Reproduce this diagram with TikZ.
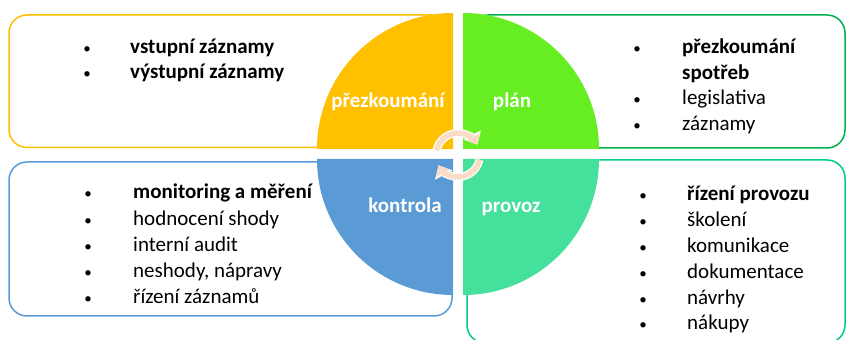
\documentclass[tikz,border=0pt]{standalone}
\usepackage{fontspec}
\setmainfont{Carlito}
\usetikzlibrary{arrows.meta}
\definecolor{qyellow}{HTML}{FFC000}
\definecolor{qgreen}{HTML}{66EE22}
\definecolor{qblue}{HTML}{5B9BD5}
\definecolor{qteal}{HTML}{44E09C}
\definecolor{lgreen}{HTML}{00B050}
\definecolor{lteal}{HTML}{00CC88}
\definecolor{peach}{HTML}{FBDDC6}

\begin{document}
\begin{tikzpicture}[x=1pt,y=1pt,>=Stealth,font=\fontsize{21}{25}\selectfont]
\tikzstyle{frame}=[draw,line width=1.5pt,rounded corners=18pt,inner sep=0pt]
\tikzstyle{lbl}=[anchor=base,text=white,font=\fontsize{21}{25}\selectfont\bfseries]
\tikzstyle{bul}=[anchor=base,inner sep=0pt,font=\fontsize{15}{25}\selectfont]
\tikzstyle{itm}=[anchor=base west,inner sep=0pt]
\tikzstyle{cyc}=[line width=5.5pt,draw=peach,-{Triangle[length=9pt,width=15pt]},
  preaction={draw=white,line width=8pt,-{Triangle[length=11pt,width=19pt]}}]
\fill[white] (0,0) rectangle (846,340);
\useasboundingbox (0,0) rectangle (846,340);
\clip (0,0) rectangle (846,340);
% frames behind the circle
\foreach \nm/\col/\x/\y/\w/\h in {fTL/qyellow/229.5/258.75/441/132.5, fTR/lgreen/657.5/258.5/375/133, fBL/qblue/230.5/101/443/154, fBR/lteal/656/88.5/378/183}
  \node[frame,draw=\col,minimum width=\w pt,minimum height=\h pt] (\nm) at (\x,\y) {};
% the four quarters
\foreach \col/\x/\y/\a in {qyellow/453/191/90, qgreen/463/191/0, qblue/453/181/180, qteal/463/181/270}
  \fill[\col] (\x,\y) -- ++(\a:136) arc[start angle=\a,delta angle=90,radius=136] -- cycle;
\node[lbl] (review) at (388,232) {přezkoumání};
\node[lbl] (plan) at (512,232) {plán};
\node[lbl] (check) at (405,127) {kontrola};
\node[lbl] (run) at (511,127) {provoz};
% cycle arrows
\coordinate (hub) at (458,185);
\draw[cyc] ([shift={(168:22)}]hub) arc[start angle=168,end angle=28,radius=22];
\draw[cyc] ([shift={(-12:22)}]hub) arc[start angle=-12,end angle=-152,radius=22];
% lists
\foreach \t [count=\i from 0] in {vstupní záznamy,výstupní záznamy} {
  \node[bul] (rb\i) at (87,286-25*\i) {•};
  \node[itm] (r\i) at (130,286-25*\i) {\bfseries \t};
}
\foreach \t [count=\i from 0] in {\bfseries přezkoumání,\bfseries spotřeb,legislativa,záznamy} {
  \ifnum\i=1 \else \node[bul] (pb\i) at (637,286-25.5*\i) {•}; \fi
  \node[itm] (p\i) at (682,286-25.5*\i) {\t};
}
\foreach \t [count=\i from 0] in {\bfseries monitoring a měření,hodnocení shody,interní audit,{neshody, nápravy},řízení záznamů} {
  \node[bul] (cb\i) at (88,141-26.2*\i) {•};
  \node[itm] (c\i) at (133,141-26.2*\i) {\t};
}
\foreach \t [count=\i from 0] in {\bfseries řízení provozu,školení,komunikace,dokumentace,návrhy,nákupy} {
  \node[bul] (ob\i) at (643,139-25.8*\i) {•};
  \node[itm] (o\i) at (687,139-25.8*\i) {\t};
}
\end{tikzpicture}
\end{document}
